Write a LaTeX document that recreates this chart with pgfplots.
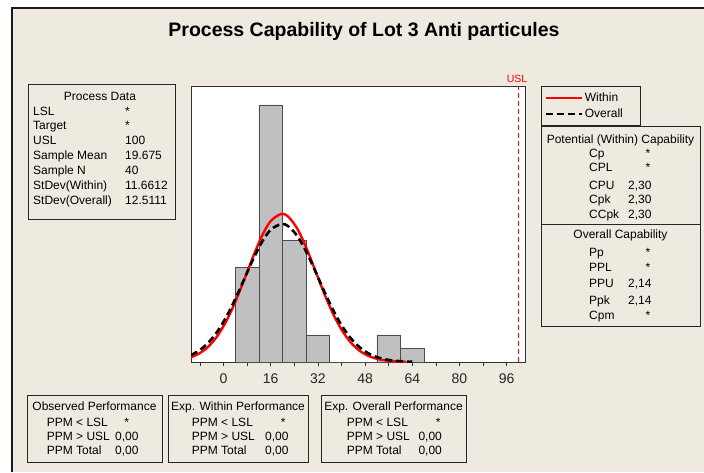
\documentclass[border=0pt]{standalone}
\usepackage{fontspec}
\setmainfont{Liberation Sans}
\usepackage{pgfplots}
\pgfplotsset{compat=1.18}
\definecolor{bg}{RGB}{238,234,224}
\definecolor{bargray}{RGB}{192,192,192}
\newcommand\bx{\fontsize{12}{14}\selectfont}
\begin{document}
\begin{tikzpicture}[x=1pt,y=1pt,
  t/.style={font=\bx, inner sep=0pt, anchor=mid west, yshift=-1.2pt},
  c/.style={font=\bx, inner sep=0pt, anchor=mid, yshift=-1.2pt}]
\useasboundingbox (0,0) rectangle (704,472);
\fill[white] (0,0) rectangle (704,472);
\fill[bg] (12,0) rectangle (704,464);
\draw[black!90, line width=1.2pt] (12,0) -- (12,464) -- (704,464);
\node[font=\fontsize{19.5}{22}\selectfont\bfseries, inner sep=0pt] at (364,440.5) {Process Capability of Lot 3 Anti particules};

\begin{axis}[at={(191pt,110pt)}, anchor=south west, scale only axis,
  width=334pt, height=276pt,
  xmin=-11, xmax=102.2, ymin=0, ymax=20.4,
  axis background/.style={fill=white},
  axis line style={black!80, line width=0.8pt},
  xtick={0,16,...,96}, minor xtick={-8,8,...,88},
  ytick=\empty,
  tick align=outside, xtick pos=bottom,
  major tick length=4pt, minor tick length=4pt,
  tick style={black!80, line width=0.6pt},
  xticklabel style={font=\fontsize{14}{16}\selectfont, text=black!85, yshift=-4pt},
  /pgf/number format/assume math mode=true,
  clip mode=individual,
  legend style={at={(1.048,1)}, anchor=north west, draw=black!85, fill=none,
    font=\fontsize{12}{14}\selectfont, inner xsep=3pt, inner ysep=4.5pt,
    row sep=2pt, cells={anchor=west}},
  legend image code/.code={\draw[#1] (0pt,0pt) -- (36pt,0pt);},
]
\addplot[ybar interval, fill=bargray, draw=black!70, line width=0.6pt, forget plot]
  coordinates {(4,7) (12,19) (20,9) (28,2) (36,0) (44,0) (52,2) (60,1) (68,1)};
\addplot[red, dashed, dash pattern=on 5pt off 3pt, line width=0.8pt, forget plot]
  coordinates {(100,0) (100,20.4)};
\addplot[red, line width=2.4pt, smooth] coordinates {
 (-11,0.344) (-8,0.655) (-5,1.167) (-2,1.946) (1,3.036) (4,4.436) (7,6.064)
 (10,7.759) (13,9.293) (16,10.417) (19.675,10.948) (22,10.732) (25,9.864)
 (28,8.485) (31,6.832) (34,5.148) (37,3.631) (40,2.397) (43,1.481) (46,0.856)
 (49,0.463) (52,0.235) (55,0.111) (58,0.049) (62,0.015)};
\addlegendentry{Within\rule{17pt}{0pt}}
\addplot[black, line width=2.6pt, dash pattern=on 7pt off 4pt, smooth] coordinates {
 (-11,0.505) (-8,0.884) (-5,1.459) (-2,2.275) (1,3.349) (4,4.655) (7,6.108)
 (10,7.567) (13,8.850) (16,9.773) (19.675,10.204) (22,10.029) (25,9.320)
 (28,8.178) (31,6.774) (34,5.298) (37,3.912) (40,2.727) (43,1.795) (46,1.115)
 (49,0.654) (52,0.362) (55,0.190) (58,0.094) (61,0.044) (64,0.019)};
\addlegendentry{Overall}
\end{axis}

\node[red, font=\fontsize{10.5}{12}\selectfont, inner sep=0pt] at (517,393) {USL};

% Process Data box
\draw[black!85, line width=0.8pt] (28,253) rectangle (175,388);
\node[c] at (100,375) {Process Data};
\node[t] at (33,360) {LSL};            \node[t] at (125,360) {*};
\node[t] at (33,346) {Target};         \node[t] at (125,346) {*};
\node[t] at (33,331) {USL};            \node[t] at (125,331) {100};
\node[t] at (33,316) {Sample Mean};    \node[t] at (125,316) {19.675};
\node[t] at (33,301) {Sample N};       \node[t] at (125,301) {40};
\node[t] at (33,286) {StDev(Within)};  \node[t] at (125,286) {11.6612};
\node[t] at (33,271) {StDev(Overall)}; \node[t] at (125,271) {12.5111};

% Capability box
\draw[black!85, line width=0.8pt] (541,146) rectangle (700,346);
\draw[black!85, line width=0.8pt] (541,248) -- (700,248);
\node[c] at (620.5,332) {Potential (Within) Capability};
\node[t] at (589,318) {Cp};   \node[c] at (648,318) {*};
\node[t] at (589,304) {CPL};  \node[c] at (648,304) {*};
\node[t] at (589,286) {CPU};  \node[t] at (628,286) {2,30};
\node[t] at (589,272) {Cpk};  \node[t] at (628,272) {2,30};
\node[t] at (589,257) {CCpk}; \node[t] at (628,257) {2,30};
\node[c] at (620.5,237) {Overall Capability};
\node[t] at (589,219) {Pp};   \node[c] at (648,219) {*};
\node[t] at (589,204) {PPL};  \node[c] at (648,204) {*};
\node[t] at (589,188) {PPU};  \node[t] at (628,188) {2,14};
\node[t] at (589,171) {Ppk};  \node[t] at (628,171) {2,14};
\node[t] at (589,156) {Cpm};  \node[c] at (648,156) {*};

% Bottom boxes
\draw[black!85, line width=0.8pt] (27,10) rectangle (162,77);
\node[c] at (94.5,65) {Observed Performance};
\node[t] at (46.7,49) {PPM < LSL};  \node[c] at (126.7,49) {*};
\node[t] at (46.7,35) {PPM > USL};  \node[t] at (115,35) {0,00};
\node[t] at (46.7,21) {PPM Total};  \node[t] at (115,21) {0,00};

\draw[black!85, line width=0.8pt] (168,10) rectangle (308,77);
\node[c] at (238,65) {Exp. Within Performance};
\node[t] at (191.7,49) {PPM < LSL};  \node[c] at (283.3,49) {*};
\node[t] at (191.7,35) {PPM > USL};  \node[t] at (265,35) {0,00};
\node[t] at (191.7,21) {PPM Total};  \node[t] at (265,21) {0,00};

\draw[black!85, line width=0.8pt] (321,10) rectangle (466,77);
\node[c] at (393.5,65) {Exp. Overall Performance};
\node[t] at (346.7,49) {PPM < LSL};  \node[c] at (438.3,49) {*};
\node[t] at (346.7,35) {PPM > USL};  \node[t] at (418.3,35) {0,00};
\node[t] at (346.7,21) {PPM Total};  \node[t] at (418.3,21) {0,00};
\end{tikzpicture}
\end{document}
